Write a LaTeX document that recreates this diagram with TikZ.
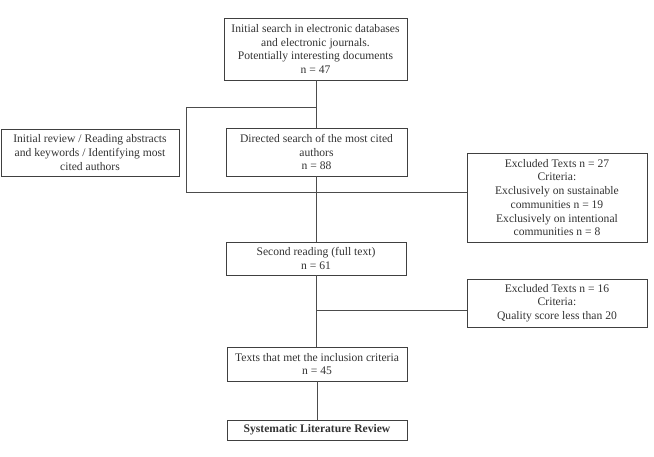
\documentclass[tikz,border=0pt]{standalone}
\usepackage{fontspec}
\setmainfont{Liberation Serif}
\begin{document}
\begin{tikzpicture}[x=1pt,y=-1pt,
  box/.style={draw=black!75,line width=0.9pt,align=center,inner sep=0pt,
    font=\fontsize{11.6}{13.7}\selectfont,text=black!80},
  conn/.style={draw=black!70,line width=0.9pt}]
\useasboundingbox[fill=white] (0,0) rectangle (654,457);
\node[box,minimum width=183pt,minimum height=62pt] (b1) at (315.5,49)
  {Initial search in electronic databases\\and electronic journals.\\Potentially interesting documents\\n = 47};
\node[box,minimum width=181pt,minimum height=48pt] (b2) at (316.5,152)
  {Directed search of the most cited\\authors\\n = 88};
\node[box,minimum width=178pt,minimum height=47pt] (lb) at (90,152.5)
  {Initial review / Reading abstracts\\and keywords / Identifying most\\cited authors};
\node[box,minimum width=180pt,minimum height=89pt] (e1) at (557,197.5)
  {Excluded Texts n = 27\\Criteria:\\Exclusively on sustainable\\communities n = 19\\Exclusively on intentional\\communities n = 8};
\node[box,minimum width=180pt,minimum height=33pt] (b3) at (316,258.5)
  {Second reading (full text)\\n = 61};
\node[box,minimum width=180pt,minimum height=48pt] (e2) at (557,303)
  {Excluded Texts n = 16\\Criteria:\\Quality score less than 20};
\node[box,minimum width=180pt,minimum height=34pt] (b4) at (317,364)
  {Texts that met the inclusion criteria\\n = 45};
\node[box,minimum width=180pt,minimum height=20pt,font=\fontsize{11.6}{13}\selectfont\bfseries] (b5) at (317,430)
  {Systematic Literature Review};
\coordinate (j1) at (316,107);
\coordinate (k1) at (186,107);
\coordinate (k2) at (186,192);
\coordinate (e1in) at (e1.west |- k2);
\coordinate (j2) at (316,310);
\coordinate (e2in) at (e2.west |- j2);
\draw[conn] (b1.south -| j1) -- (b2.north -| j1);
\draw[conn] (j1) -- (k1) -- (k2) -- (e1in);
\draw[conn] (b2.south -| j1) -- (b3.north -| j1);
\draw[conn] (b3.south -| j1) -- (b4.north -| j1);
\draw[conn] (j2) -- (e2in);
\draw[conn] (b4.south) -- (b5.north);
\end{tikzpicture}
\end{document}
